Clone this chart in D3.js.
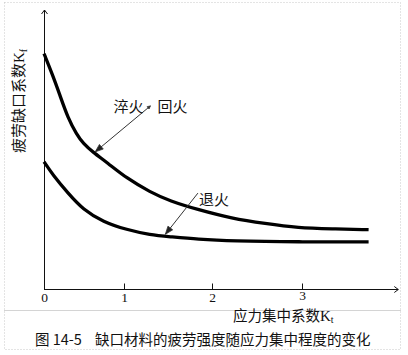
<!DOCTYPE html>
<html>
<head>
<meta charset="utf-8">
<script src="https://cdn.jsdelivr.net/npm/d3@7/dist/d3.min.js"></script>
<style>
  html, body { margin: 0; padding: 0; background: #fff; }
  svg { display: block; }
  .cjk { font-family: "Noto Sans CJK SC", "Noto Sans", sans-serif; fill: #111; }
  .serif { font-family: "Liberation Serif", "DejaVu Serif", serif; fill: #111; }
</style>
</head>
<body>
<div id="chart"></div>
<script>
// stress concentration factor Kt (x) against fatigue notch factor Kf (y)
const ktTicks = [0, 1, 2, 3];

const ktQuench = [0, 0.11, 0.2, 0.3, 0.41, 0.49, 0.61, 0.79, 1.03, 1.3, 1.52, 1.84, 2.22, 2.59, 2.96, 3.33, 3.74];
const kfQuench = [2.7, 2.45, 2.22, 1.96, 1.77, 1.67, 1.57, 1.45, 1.27, 1.11, 1.01, 0.91, 0.81, 0.75, 0.7, 0.69, 0.68];

const ktAnneal = [0, 0.11, 0.3, 0.49, 0.74, 1.03, 1.3, 1.52, 1.84, 2.22, 2.96, 3.74];
const kfAnneal = [1.46, 1.31, 1.1, 0.91, 0.77, 0.68, 0.62, 0.6, 0.57, 0.55, 0.54, 0.54];

const yLabel = '疲劳缺口系数';
const xLabel = '应力集中系数';
const captionNo = '图 14-5';
const captionText = '缺口材料的疲劳强度随应力集中程度的变化';

// annotation: tip on curve at kt, tail end in data units
const notes = [
  { curve: 'quench', tipKt: 0.64, tail: [1.3, 2.1], left: '淬火', right: '回火' },
  { curve: 'anneal', tipKt: 1.47, tail: [1.84, 1.1], left: null, right: '退火' },
];

const W = 408, H = 355;
const svg = d3.select('#chart').append('svg').attr('width', W).attr('height', H);

// hand-drawn axis spacing in the source is slightly uneven
const x = d3.scaleLinear().domain([0, 1, 2, 3, 4]).range([44, 124, 212, 302, 392]);
const y = d3.scaleLinear().domain([0, 3.2]).range([289, 10]);

// frame + separator
svg.append('rect')
  .attr('x', 4.5).attr('y', 2.5).attr('width', 396).attr('height', 347)
  .attr('fill', 'none').attr('stroke', '#c8c8c8').attr('stroke-dasharray', '1,2');
svg.append('line')
  .attr('x1', 4).attr('x2', 401).attr('y1', 310.5).attr('y2', 310.5)
  .attr('stroke', '#d4d4d4');

// axes with arrows
const ax = svg.append('g').attr('stroke', '#111').attr('fill', 'none').attr('stroke-width', 1);
const xEnd = x(4.07), yTop = y(3.2);
ax.append('line').attr('x1', x(0)).attr('x2', xEnd).attr('y1', y(0) + 0.5).attr('y2', y(0) + 0.5);
ax.append('line').attr('x1', x(0) + 0.5).attr('x2', x(0) + 0.5).attr('y1', yTop).attr('y2', y(0));
ax.append('path').attr('d', `M${xEnd - 4},${y(0) - 2.5}L${xEnd},${y(0) + 0.5}L${xEnd - 4},${y(0) + 3.5}`);
ax.append('path').attr('d', `M${x(0) - 2.5},${yTop + 4}L${x(0) + 0.5},${yTop}L${x(0) + 3.5},${yTop + 4}`);

const xAxis = svg.append('g')
  .attr('transform', `translate(0,${y(0) + 0.5})`)
  .call(d3.axisBottom(x).tickValues(ktTicks).tickFormat(d3.format('d')).tickSizeInner(-6).tickSizeOuter(0).tickPadding(3));
xAxis.select('.domain').remove();
xAxis.selectAll('.tick line').attr('stroke', '#111');
xAxis.selectAll('.tick text')
  .attr('class', 'serif').attr('font-size', 13.5).attr('fill', '#111')
  .attr('y', d => d === 3 ? 1 : 3);

// curves
const line = d3.line().x(d => x(d[0])).y(d => y(d[1])).curve(d3.curveBasis);
const quench = ktQuench.map((k, i) => [k, kfQuench[i]]);
const anneal = ktAnneal.map((k, i) => [k, kfAnneal[i]]);
svg.selectAll('path.curve')
  .data([quench, anneal])
  .enter().append('path')
  .attr('class', 'curve')
  .attr('d', line)
  .attr('fill', 'none').attr('stroke', '#000').attr('stroke-width', 3.3);

// annotations
const curves = { quench, anneal };
const interp = (pts, k) => {
  const i = d3.bisector(d => d[0]).right(pts, k);
  const a = pts[Math.max(i - 1, 0)], b = pts[Math.min(i, pts.length - 1)];
  const t = b[0] === a[0] ? 0 : (k - a[0]) / (b[0] - a[0]);
  return a[1] + t * (b[1] - a[1]);
};
notes.forEach(n => {
  const tx = x(n.tipKt), ty = y(interp(curves[n.curve], n.tipKt)) - 2;
  const sx = x(n.tail[0]), sy = y(n.tail[1]);
  const g = svg.append('g');
  g.append('line').attr('x1', sx).attr('y1', sy).attr('x2', tx).attr('y2', ty)
    .attr('stroke', '#333').attr('stroke-width', 1);
  const ang = Math.atan2(ty - sy, tx - sx);
  const head = (px, py, a, len, wid, fill) => {
    const bx = px - len * Math.cos(a), by = py - len * Math.sin(a);
    const nx = -Math.sin(a) * wid, ny = Math.cos(a) * wid;
    g.append('path')
      .attr('d', `M${px},${py}L${bx + nx},${by + ny}L${bx - nx},${by - ny}Z`)
      .attr('fill', fill).attr('stroke', '#333').attr('stroke-width', 0.8);
  };
  head(tx, ty, ang, 8, 3, '#222');
  if (n.left) head(sx, sy, ang + Math.PI, 3, 1.5, '#333');
  if (n.left) {
    g.append('text').attr('class', 'cjk').attr('font-size', 15)
      .attr('x', sx - 7).attr('y', sy + 6).attr('text-anchor', 'end').text(n.left);
    g.append('text').attr('class', 'cjk').attr('font-size', 15)
      .attr('x', sx + 7).attr('y', sy + 6).text(n.right);
  } else {
    g.append('text').attr('class', 'cjk').attr('font-size', 15)
      .attr('x', sx + 1).attr('y', sy + 12).text(n.right);
  }
});

// axis titles
const yt = svg.append('text').attr('transform', 'translate(24,101) rotate(-90)')
  .attr('text-anchor', 'middle').attr('font-size', 15).attr('class', 'cjk');
yt.append('tspan').text(yLabel);
yt.append('tspan').attr('class', 'serif').attr('font-size', 15).text('K');
yt.append('tspan').attr('class', 'serif').attr('font-size', 10).attr('dy', 3).text('f');

const xt = svg.append('text').attr('x', 233).attr('y', 321).attr('font-size', 14.5).attr('class', 'cjk');
xt.append('tspan').text(xLabel);
xt.append('tspan').attr('class', 'serif').attr('font-size', 15).text('K');
xt.append('tspan').attr('class', 'serif').attr('font-size', 10).attr('dy', 2).text('t');

// caption
const cap = svg.append('text').attr('y', 345).attr('font-size', 14.5).attr('class', 'cjk');
cap.append('tspan').attr('x', 35).text(captionNo);
cap.append('tspan').attr('x', 95).text(captionText);
</script>
</body>
</html>
